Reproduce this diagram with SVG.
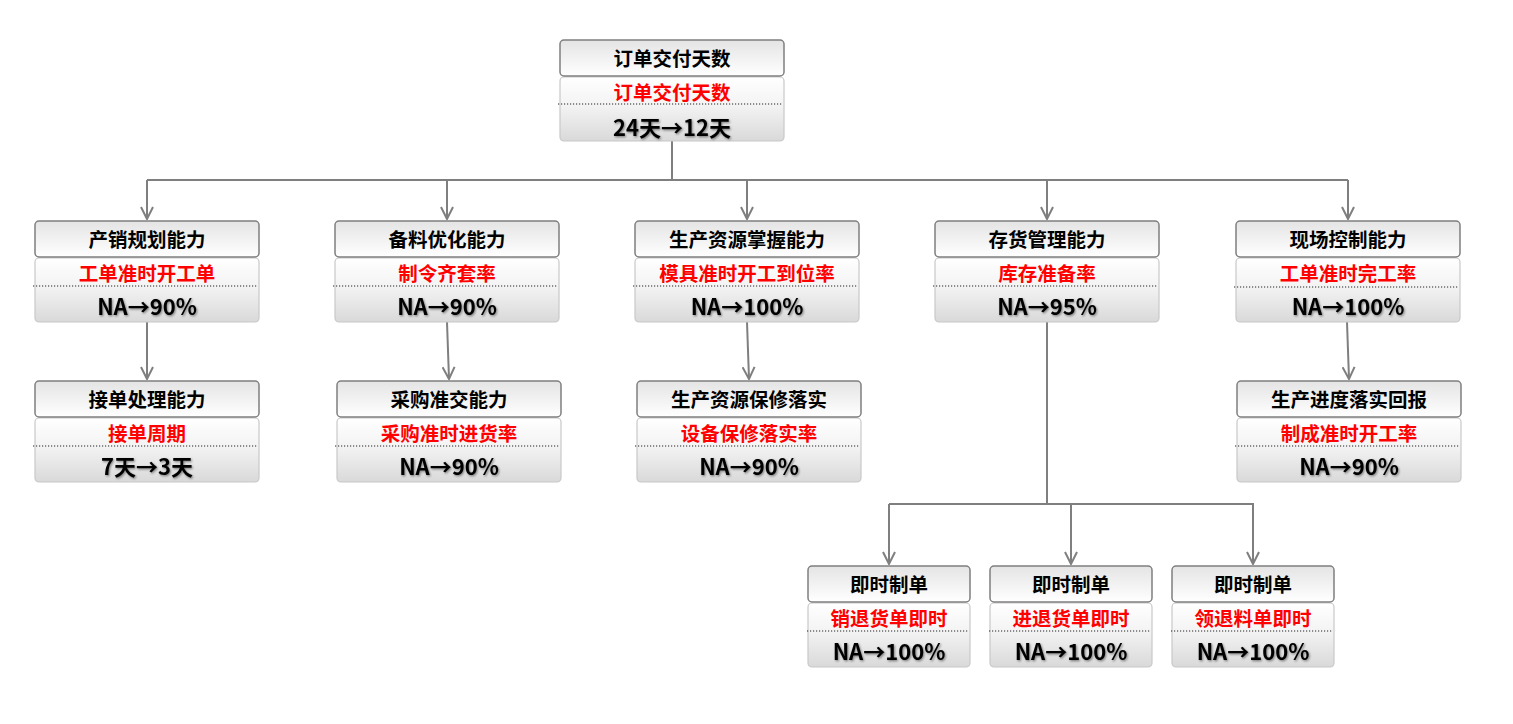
<svg xmlns="http://www.w3.org/2000/svg" width="1513" height="724" viewBox="0 0 1513 724">
<defs>
<linearGradient id="gh" x1="0" y1="0" x2="0" y2="1"><stop offset="0" stop-color="#e4e4e4"/><stop offset="1" stop-color="#ffffff"/></linearGradient>
<linearGradient id="gb" x1="0" y1="0" x2="0" y2="1"><stop offset="0" stop-color="#ffffff"/><stop offset="0.45" stop-color="#f3f3f3"/><stop offset="1" stop-color="#d9d9d9"/></linearGradient>
<filter id="sh" x="-10%" y="-30%" width="120%" height="160%"><feDropShadow dx="1" dy="1.2" stdDeviation="0.8" flood-color="#000" flood-opacity="0.45"/></filter>
<marker id="ar" viewBox="0 0 14 14" refX="13" refY="7" markerWidth="14" markerHeight="14" markerUnits="userSpaceOnUse" orient="auto"><path d="M1,1 L13,7 L1,13" fill="none" stroke="#7f7f7f" stroke-width="2"/></marker>
</defs>
<style>
.hd{fill:url(#gh);stroke:#7f7f7f;stroke-width:1.5}
.bd{fill:url(#gb);stroke:#c8c8c8;stroke-width:1.2}
.dl{stroke:#222;stroke-width:1;stroke-dasharray:1.2 1.8}
text{font-family:"Noto Sans CJK SC","Noto Sans",sans-serif;font-weight:bold;text-anchor:middle;dominant-baseline:central}
.t{font-size:19.5px;fill:#000}
.r{font-size:19.5px;fill:#ff0000}
.v{font-size:22px;fill:#000;filter:url(#sh)}
.c{fill:none;stroke:#7f7f7f;stroke-width:2}
</style>
<rect width="1513" height="724" fill="#fff"/>
<g id="connectors">
<path class="c" d="M672,141 V180 M147,180 H1348"/>
<path class="c" d="M147,180 V219" marker-end="url(#ar)"/>
<path class="c" d="M447,180 V219" marker-end="url(#ar)"/>
<path class="c" d="M747,180 V219" marker-end="url(#ar)"/>
<path class="c" d="M1047,180 V219" marker-end="url(#ar)"/>
<path class="c" d="M1348,180 V219" marker-end="url(#ar)"/>
<path class="c" d="M147,322 V379" marker-end="url(#ar)"/>
<path class="c" d="M447,322 L449,379" marker-end="url(#ar)"/>
<path class="c" d="M747,322 L749,379" marker-end="url(#ar)"/>
<path class="c" d="M1347,322 L1349,379" marker-end="url(#ar)"/>
<path class="c" d="M1047,322 V504 M889,504 H1254"/>
<path class="c" d="M889,504 V564" marker-end="url(#ar)"/>
<path class="c" d="M1071,504 V564" marker-end="url(#ar)"/>
<path class="c" d="M1253,504 V564" marker-end="url(#ar)"/>
</g>
<g id="n0">
<rect class="bd" x="560" y="77" width="224" height="64" rx="4"/>
<rect class="hd" x="560" y="40" width="224" height="36" rx="4"/>
<line class="dl" x1="558" y1="104" x2="782" y2="104"/>
<text class="t" x="672" y="57">订单交付天数</text>
<text class="r" x="672" y="91">订单交付天数</text>
<text class="v" x="672" y="126">24天→12天</text>
</g>
<g id="n1">
<rect class="bd" x="35" y="258" width="224" height="64" rx="4"/>
<rect class="hd" x="35" y="221" width="224" height="36" rx="4"/>
<line class="dl" x1="33" y1="286" x2="257" y2="286"/>
<text class="t" x="147" y="238">产销规划能力</text>
<text class="r" x="147" y="272">工单准时开工单</text>
<text class="v" x="147" y="305">NA→90%</text>
</g>
<g id="n2">
<rect class="bd" x="335" y="258" width="224" height="64" rx="4"/>
<rect class="hd" x="335" y="221" width="224" height="36" rx="4"/>
<line class="dl" x1="333" y1="286" x2="557" y2="286"/>
<text class="t" x="447" y="238">备料优化能力</text>
<text class="r" x="447" y="272">制令齐套率</text>
<text class="v" x="447" y="305">NA→90%</text>
</g>
<g id="n3">
<rect class="bd" x="635" y="258" width="224" height="64" rx="4"/>
<rect class="hd" x="635" y="221" width="224" height="36" rx="4"/>
<line class="dl" x1="633" y1="286" x2="857" y2="286"/>
<text class="t" x="747" y="238">生产资源掌握能力</text>
<text class="r" x="747" y="272">模具准时开工到位率</text>
<text class="v" x="747" y="305">NA→100%</text>
</g>
<g id="n4">
<rect class="bd" x="935" y="258" width="224" height="64" rx="4"/>
<rect class="hd" x="935" y="221" width="224" height="36" rx="4"/>
<line class="dl" x1="933" y1="286" x2="1157" y2="286"/>
<text class="t" x="1047" y="238">存货管理能力</text>
<text class="r" x="1047" y="272">库存准备率</text>
<text class="v" x="1047" y="305">NA→95%</text>
</g>
<g id="n5">
<rect class="bd" x="1236" y="258" width="224" height="64" rx="4"/>
<rect class="hd" x="1236" y="221" width="224" height="36" rx="4"/>
<line class="dl" x1="1234" y1="287" x2="1458" y2="287"/>
<text class="t" x="1348" y="238">现场控制能力</text>
<text class="r" x="1348" y="272">工单准时完工率</text>
<text class="v" x="1348" y="305">NA→100%</text>
</g>
<g id="n6">
<rect class="bd" x="35" y="418" width="224" height="64" rx="4"/>
<rect class="hd" x="35" y="381" width="224" height="36" rx="4"/>
<line class="dl" x1="33" y1="446" x2="257" y2="446"/>
<text class="t" x="147" y="398">接单处理能力</text>
<text class="r" x="147" y="432">接单周期</text>
<text class="v" x="147" y="465">7天→3天</text>
</g>
<g id="n7">
<rect class="bd" x="337" y="418" width="224" height="64" rx="4"/>
<rect class="hd" x="337" y="381" width="224" height="36" rx="4"/>
<line class="dl" x1="335" y1="446" x2="559" y2="446"/>
<text class="t" x="449" y="398">采购准交能力</text>
<text class="r" x="449" y="432">采购准时进货率</text>
<text class="v" x="449" y="465">NA→90%</text>
</g>
<g id="n8">
<rect class="bd" x="637" y="418" width="224" height="64" rx="4"/>
<rect class="hd" x="637" y="381" width="224" height="36" rx="4"/>
<line class="dl" x1="635" y1="446" x2="859" y2="446"/>
<text class="t" x="749" y="398">生产资源保修落实</text>
<text class="r" x="749" y="432">设备保修落实率</text>
<text class="v" x="749" y="465">NA→90%</text>
</g>
<g id="n9">
<rect class="bd" x="1237" y="418" width="224" height="64" rx="4"/>
<rect class="hd" x="1237" y="381" width="224" height="36" rx="4"/>
<line class="dl" x1="1235" y1="446" x2="1459" y2="446"/>
<text class="t" x="1349" y="398">生产进度落实回报</text>
<text class="r" x="1349" y="432">制成准时开工率</text>
<text class="v" x="1349" y="465">NA→90%</text>
</g>
<g id="n10">
<rect class="bd" x="808" y="603" width="162" height="64" rx="4"/>
<rect class="hd" x="808" y="566" width="162" height="36" rx="4"/>
<line class="dl" x1="807" y1="631" x2="968" y2="631"/>
<text class="t" x="889" y="583">即时制单</text>
<text class="r" x="889" y="617">销退货单即时</text>
<text class="v" x="889" y="650">NA→100%</text>
</g>
<g id="n11">
<rect class="bd" x="990" y="603" width="162" height="64" rx="4"/>
<rect class="hd" x="990" y="566" width="162" height="36" rx="4"/>
<line class="dl" x1="989" y1="631" x2="1150" y2="631"/>
<text class="t" x="1071" y="583">即时制单</text>
<text class="r" x="1071" y="617">进退货单即时</text>
<text class="v" x="1071" y="650">NA→100%</text>
</g>
<g id="n12">
<rect class="bd" x="1172" y="603" width="162" height="64" rx="4"/>
<rect class="hd" x="1172" y="566" width="162" height="36" rx="4"/>
<line class="dl" x1="1171" y1="631" x2="1332" y2="631"/>
<text class="t" x="1253" y="583">即时制单</text>
<text class="r" x="1253" y="617">领退料单即时</text>
<text class="v" x="1253" y="650">NA→100%</text>
</g>
</svg>
